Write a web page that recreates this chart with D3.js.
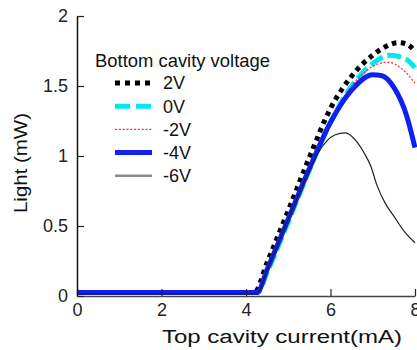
<!DOCTYPE html>
<html><head><meta charset="utf-8">
<script src="https://cdn.jsdelivr.net/npm/d3@7"></script>
<style>
body{margin:0;background:#fff;}
svg{display:block;font-family:Arial,"Liberation Sans",sans-serif;}
</style></head>
<body><svg id="c" width="417" height="350"></svg>
<script>
// ---- data ----
const seriesNames = ["2V", "0V", "-2V", "-4V", "-6V"];
const current2V  = [0, 4.2, 4.5, 5.0, 5.5, 6.0, 6.5, 7.0, 7.3, 7.6, 7.8, 8.0];
const light2V    = [0.025, 0.025, 0.24, 0.61, 0.99, 1.34, 1.57, 1.72, 1.78, 1.81, 1.80, 1.75];
const current0V  = [0, 4.28, 4.5, 5.0, 5.5, 6.0, 6.5, 7.0, 7.4, 7.8, 8.0];
const light0V    = [0.025, 0.025, 0.17, 0.53, 0.90, 1.24, 1.50, 1.66, 1.72, 1.69, 1.63];
const currentM2V = [0, 4.26, 4.5, 5.0, 5.5, 6.0, 6.5, 7.0, 7.35, 7.7, 8.0];
const lightM2V   = [0.025, 0.025, 0.19, 0.55, 0.91, 1.25, 1.50, 1.64, 1.67, 1.62, 1.52];
const currentM4V = [0, 4.26, 4.5, 5.0, 5.5, 6.0, 6.5, 7.0, 7.2, 7.5, 7.8, 8.0];
const lightM4V   = [0.025, 0.025, 0.19, 0.55, 0.91, 1.24, 1.47, 1.58, 1.575, 1.49, 1.29, 1.06];
const currentM6V = [0, 4.26, 4.5, 5.0, 5.5, 5.7, 5.92, 6.1, 6.35, 6.6, 6.8, 6.95, 7.1, 7.3, 7.5, 7.75, 8.0];
const lightM6V   = [0.015, 0.015, 0.19, 0.55, 0.9, 1.02, 1.11, 1.15, 1.165, 1.11, 1.02, 0.93, 0.79, 0.66, 0.57, 0.46, 0.38];
const xTicks = [0, 2, 4, 6, 8];
const yTicks = [0, 0.5, 1, 1.5, 2];
const legendTitle = "Bottom cavity voltage";
const xTitle = "Top cavity current(mA)";
const yTitle = "Light (mW)";

// ---- styles ----
const styles = [
  {color:"#000", width:5, dash:"4.5,4.5", lcolor:"#000", lwidth:5},
  {color:"#00e8f0", width:5, dash:"14,5", lcolor:"#00e8f0", lwidth:5},
  {color:"#ff3333", width:1.2, dash:"2.2,1.6", lcolor:"#ff3333", lwidth:1.2},
  {color:"#1020f5", width:5, dash:null, lcolor:"#1020f5", lwidth:5},
  {color:"#222", width:1.2, dash:null, lcolor:"#8a8a8a", lwidth:2.6}
];
const data = [
  d3.zip(current2V, light2V),
  d3.zip(current0V, light0V),
  d3.zip(currentM2V, lightM2V),
  d3.zip(currentM4V, lightM4V),
  d3.zip(currentM6V, lightM6V)
];

const svg = d3.select("#c");
const x = d3.scaleLinear().domain([0, 8]).range([77, 415]);
const y = d3.scaleLinear().domain([0, 2]).range([296, 16]);

const line = d3.line().x(d => x(d[0])).y(d => y(d[1])).curve(d3.curveMonotoneX);

// curves
data.forEach((s, i) => {
  const st = styles[i];
  svg.append("path").attr("d", line(s)).attr("fill", "none")
    .attr("stroke", st.color).attr("stroke-width", st.width)
    .attr("stroke-dasharray", st.dash)
    .attr("stroke-linejoin", "round");
});

// axes
const gx = svg.append("g").attr("transform", `translate(0,${y(0)})`)
  .call(d3.axisBottom(x).tickValues(xTicks).tickFormat(d3.format("d"))
    .tickSizeInner(-7).tickSizeOuter(0).tickPadding(7));
gx.select(".domain").attr("stroke", "#444").attr("stroke-width", 1.5);
gx.selectAll(".tick line").attr("stroke", "#222").attr("stroke-width", 1.2);
gx.selectAll("text").attr("font-size", 18).attr("fill", "#222");

const gy = svg.append("g").attr("transform", `translate(${x(0)},0)`)
  .call(d3.axisLeft(y).tickValues(yTicks).tickFormat(d => String(d))
    .tickSizeInner(-7).tickSizeOuter(0).tickPadding(9));
gy.select(".domain").attr("stroke", "#111").attr("stroke-width", 1.5);
gy.selectAll(".tick line").attr("stroke", "#222").attr("stroke-width", 1.2);
gy.selectAll("text").attr("font-size", 18).attr("fill", "#222");

// axis titles
svg.append("text").attr("x", 162).attr("y", 343).attr("font-size", 18)
  .attr("fill", "#111").attr("textLength", 240).attr("lengthAdjust", "spacingAndGlyphs")
  .text(xTitle);
svg.append("text").attr("transform", "translate(27,213) rotate(-90)")
  .attr("font-size", 18).attr("fill", "#111")
  .attr("textLength", 100).attr("lengthAdjust", "spacingAndGlyphs")
  .text(yTitle);

// legend
svg.append("text").attr("x", 95).attr("y", 67).attr("font-size", 18).attr("fill", "#111")
  .attr("textLength", 175).attr("lengthAdjust", "spacingAndGlyphs").text(legendTitle);
seriesNames.forEach((n, i) => {
  const st = styles[i];
  const yy = 83 + i * 23.2;
  svg.append("line").attr("x1", 115).attr("x2", 152).attr("y1", yy).attr("y2", yy)
    .attr("stroke", st.lcolor).attr("stroke-width", st.lwidth)
    .attr("stroke-dasharray", i === 0 ? "5,5" : i === 1 ? "15,6" : st.dash);
  svg.append("text").attr("x", 163).attr("y", yy).attr("dy", "0.36em")
    .attr("font-size", 18).attr("fill", "#111").text(n);
});
</script></body></html>
